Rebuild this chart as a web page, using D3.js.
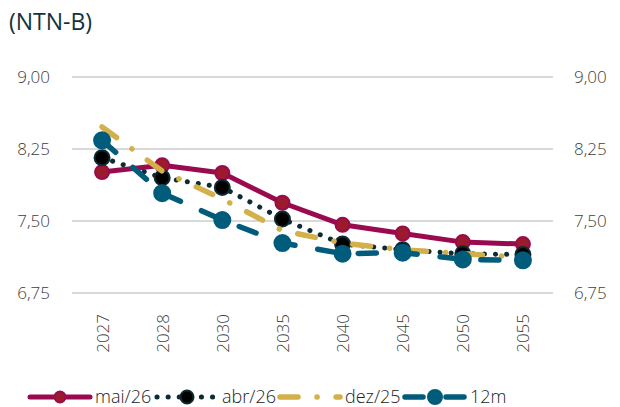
<!DOCTYPE html>
<html>
<head>
<meta charset="utf-8">
<script src="https://cdn.jsdelivr.net/npm/d3@7"></script>
<style>
  body { margin: 0; background: #fff; }
  svg { display: block; font-family: "Open Sans", sans-serif; }
</style>
</head>
<body>
<div id="chart"></div>
<script>
// vertices (anos)
var anos = ['2027', '2028', '2030', '2035', '2040', '2045', '2050', '2055'];

var mai26 = [8.01, 8.08, 8.00, 7.69, 7.46, 7.37, 7.28, 7.26];
var abr26 = [8.16, 7.95, 7.85, 7.52, 7.26, 7.20, 7.16, 7.15];
var dez25 = [8.48, 8.02, 7.73, 7.40, 7.27, 7.20, 7.16, 7.12];
var m12   = [8.34, 7.79, 7.51, 7.27, 7.16, 7.17, 7.10, 7.09];

var yTicks = [6.75, 7.50, 8.25, 9.00];

var W = 620, H = 407;
var margin = { left: 72, right: 67, top: 77, bottom: 114 };

var svg = d3.select('#chart').append('svg')
	.attr('width', W).attr('height', H);

var x = d3.scalePoint().domain(anos)
	.range([margin.left, W - margin.right]).padding(0.5);
var y = d3.scaleLinear().domain([6.75, 9.00])
	.range([H - margin.bottom, margin.top]);

// title
svg.append('text')
	.attr('x', 9).attr('y', 30)
	.attr('fill', '#12333d')
	.style('font-size', '23px')
	.text('(NTN-B)');

// gridlines
svg.append('g').selectAll('line')
	.data(yTicks)
	.enter().append('line')
		.attr('x1', margin.left).attr('x2', W - margin.right)
		.attr('y1', function(d){ return y(d); })
		.attr('y2', function(d){ return y(d); })
		.attr('stroke', '#d9d9d9')
		.attr('stroke-width', 2);

var fmt = function(d){ return d3.format('.2f')(d).replace('.', ','); };

// left + right axis labels
var axL = svg.append('g')
	.attr('transform', 'translate(' + (margin.left - 22) + ',0)')
	.call(d3.axisLeft(y).tickValues(yTicks).tickFormat(fmt).tickSize(0).tickPadding(0));
var axR = svg.append('g')
	.attr('transform', 'translate(' + (W - margin.right + 21) + ',0)')
	.call(d3.axisRight(y).tickValues(yTicks).tickFormat(fmt).tickSize(0).tickPadding(0));
[axL, axR].forEach(function(a){
	a.select('.domain').remove();
	a.selectAll('text')
		.attr('fill', '#404040')
		.style('font-family', '"Open Sans", sans-serif')
		.style('font-size', '17px')
		.style('font-weight', 300);
});

// x labels, rotated
var axX = svg.append('g')
	.attr('transform', 'translate(0,' + (H - margin.bottom + 21) + ')')
	.call(d3.axisBottom(x).tickSize(0).tickPadding(0));
axX.select('.domain').remove();
axX.selectAll('text')
	.attr('transform', 'rotate(-90)')
	.attr('x', 0).attr('y', 0).attr('dy', '0.35em')
	.style('text-anchor', 'end')
	.attr('fill', '#404040')
	.style('font-family', '"Open Sans", sans-serif')
	.style('font-size', '17px')
	.style('font-weight', 300);

var series = [
	{ name: 'mai/26', values: mai26, color: '#9a0a4f', width: 5, dash: null, cap: 'round',
	  marker: { r: 7, fill: '#9b1b2c', stroke: '#9a0a4f' }, legR: 5.5 },
	{ name: 'abr/26', values: abr26, color: '#0e2a33', width: 5, dash: '0.1,11', cap: 'round',
	  marker: { r: 7.5, fill: '#000', stroke: '#0e2a33' }, legR: 6.5 },
	{ name: 'dez/25', values: dez25, color: '#d4b04a', width: 5.5, dash: '18,19,0.1,19', cap: 'round',
	  marker: null },
	{ name: '12m', values: m12, color: '#005c7a', width: 5.5, dash: '18,23', cap: 'round',
	  marker: { r: 8, fill: '#005c7a', stroke: '#005c7a' }, legR: 7 }
];

var line = d3.line()
	.x(function(d, i){ return x(anos[i]); })
	.y(function(d){ return y(d); });

series.forEach(function(s){
	var g = svg.append('g');
	g.append('path')
		.attr('d', line(s.values))
		.attr('fill', 'none')
		.attr('stroke', s.color)
		.attr('stroke-width', s.width)
		.attr('stroke-linecap', s.cap)
		.attr('stroke-linejoin', 'round')
		.attr('stroke-dasharray', s.dash);
	if (s.marker) {
		g.selectAll('circle')
			.data(s.values)
			.enter().append('circle')
				.attr('cx', function(d, i){ return x(anos[i]); })
				.attr('cy', function(d){ return y(d); })
				.attr('r', s.marker.r)
				.attr('fill', s.marker.fill)
				.attr('stroke', s.marker.stroke)
				.attr('stroke-width', 2);
	}
});

// legend
var legY = 397;
var legPos = [30, 157, 280, 405];
var legend = svg.append('g');
series.forEach(function(s, i){
	var lx = legPos[i];
	var g = legend.append('g').attr('transform', 'translate(' + lx + ',' + legY + ')');
	g.append('line')
		.attr('x1', 0).attr('x2', 60)
		.attr('y1', 0).attr('y2', 0)
		.attr('stroke', s.color)
		.attr('stroke-width', s.width)
		.attr('stroke-linecap', s.cap)
		.attr('stroke-dasharray', s.dash);
	if (s.marker) {
		g.append('circle')
			.attr('cx', 30).attr('cy', 0)
			.attr('r', s.legR)
			.attr('fill', s.marker.fill)
			.attr('stroke', s.marker.stroke)
			.attr('stroke-width', 2);
	}
	g.append('text')
		.attr('x', 65).attr('y', 0).attr('dy', '0.35em')
		.attr('fill', '#222')
		.style('font-size', '18px')
		.style('font-weight', 300)
		.text(s.name);
});
</script>
</body>
</html>
